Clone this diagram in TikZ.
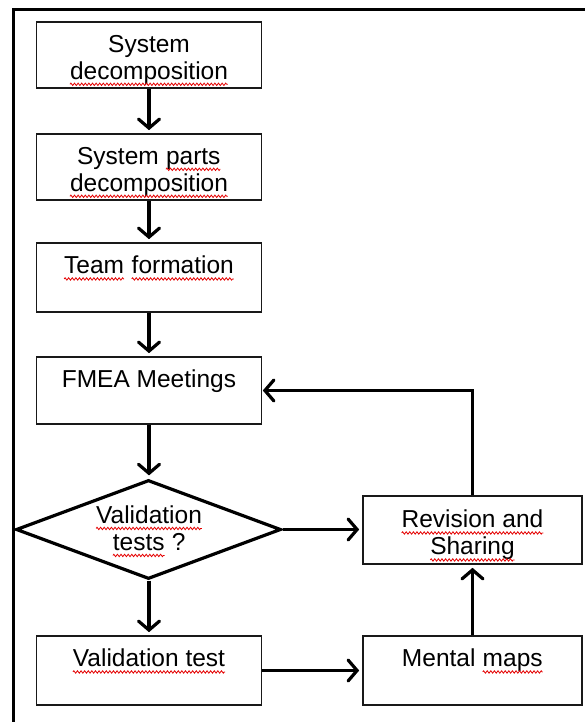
\documentclass[tikz,border=0pt]{standalone}
\usepackage{fontspec}
\setmainfont{Liberation Sans}
\usetikzlibrary{shapes.geometric,arrows.meta,decorations.pathmorphing}

% word with a red wavy spell-check underline
\newcommand\sq[1]{\tikz[baseline=(sqw.base)]{%
  \node[inner sep=0pt,outer sep=0pt,anchor=base,draw=none,fill=none] (sqw) {#1};
  \draw[red!90!black,line width=0.8pt,decorate,
        decoration={zigzag,amplitude=1.2pt,segment length=3.6pt}]
    ([yshift=-5pt]sqw.base west) -- ([yshift=-5pt]sqw.base east);}}

\begin{document}
\begin{tikzpicture}[x=1pt,y=-1pt,
  box/.style={draw=black!90,line width=1.6pt,inner sep=0pt,
              minimum width=225pt,minimum height=66pt},
  rbox/.style={box,minimum width=219pt,minimum height=69pt},
  decision/.style={diamond,draw=black,line width=3.2pt,aspect=2.68,inner sep=0pt,
                   minimum width=265pt,minimum height=99pt},
  lbl/.style={font=\fontsize{24.5pt}{27pt}\selectfont,align=center,
              inner sep=0pt,anchor=north,text=black},
  flow/.style={line width=3.2pt,
               -{Straight Barb[length=9pt,width=21pt,line cap=round]},
               shorten >=3pt},
  frame/.style={line width=3.2pt}]

\fill[white] (0,0) rectangle (585,722);
\clip (0,0) rectangle (585,722);

% outer frame, running off the page to the right and bottom
\draw[frame] (13.5,740) -- (13.5,9.5) -- (600,9.5);

% process steps
\node[box] (sd) at (149,55) {};
\node[lbl] (sdt) at (149,35) {System\\\sq{decomposition}};

\node[box] (spd) at (149,167) {};
\node[lbl] (spdt) at (149,147) {System \sq{parts}\\\sq{decomposition}};

\node[box,minimum height=69pt] (tf) at (149,277.5) {};
\node[lbl] (tft) at (149,256) {\sq{Team} \sq{formation}};

\node[box,minimum height=67pt] (fm) at (149,390.5) {};
\node[lbl] (fmt) at (149,370) {FMEA Meetings};

\node[decision] (vq) at (148.5,529.5) {};
\node[lbl] (vqt) at (149,505.5) {\sq{Validation}\\\sq{tests} ?};

\node[box,minimum height=69pt] (vt) at (149,670.5) {};
\node[lbl] (vtt) at (149,649) {\sq{Validation test}};

\node[rbox,minimum height=68pt] (rs) at (472.5,530) {};
\node[lbl] (rst) at (472.5,510) {\sq{Revision and}\\\sq{Sharing}};

\node[rbox] (mm) at (472.5,670.5) {};
\node[lbl] (mmt) at (472.5,649) {Mental \sq{maps}};

% connectors
\draw[flow] (sd) -- (spd);
\draw[flow] (spd) -- (tf);
\draw[flow] (tf) -- (fm);
\draw[flow] (fm.south) -- (fm.south |- vq.north);
\draw[flow] (vq.south -| vt.north) -- (vt.north);
\draw[flow] (vq.east) -- (rs.west |- vq.east);
\draw[flow] (vt) -- (mm);
\draw[flow] (mm) -- (rs);
\draw[flow,shorten >=0.5pt] (rs.north) |- (fm.east);
\end{tikzpicture}
\end{document}
